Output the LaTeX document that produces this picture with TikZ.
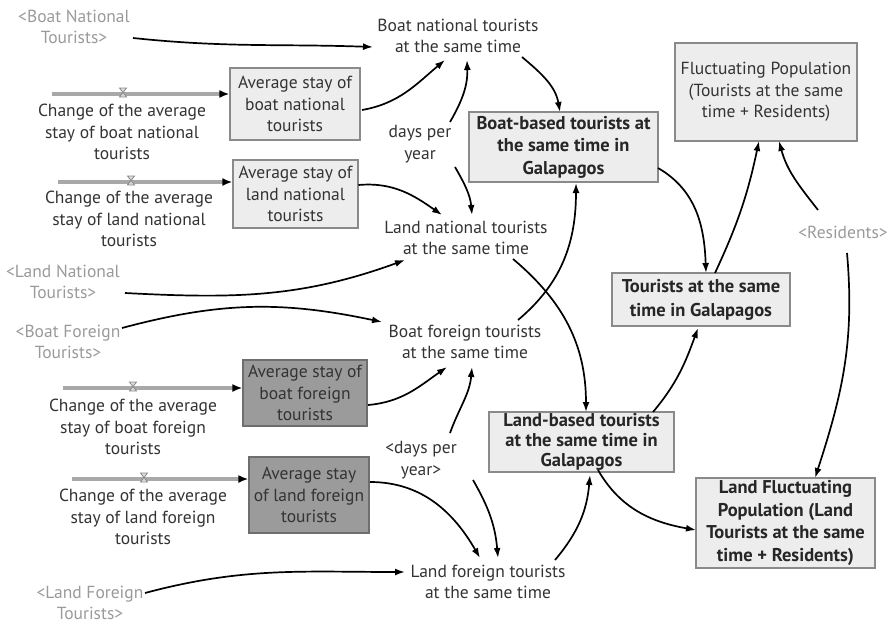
\documentclass[tikz,border=0pt]{standalone}
\usepackage{fontspec}
\setmainfont{PT Sans}
\usetikzlibrary{arrows.meta,calc}
\definecolor{ink}{HTML}{333333}
\definecolor{ghost}{HTML}{9A9A9A}
\definecolor{paleFill}{HTML}{EDEDED}
\definecolor{darkFill}{HTML}{9B9B9B}
\definecolor{frame}{HTML}{8A8A8A}
\definecolor{pipeGray}{HTML}{A8A8A8}

\tikzset{
  lbl/.style={text=ink, align=center, font=\fontsize{17.5}{21.5}\selectfont, inner sep=0pt},
  ext/.style={lbl, text=ghost},
  pale/.style={lbl, draw=frame, fill=paleFill, line width=1.2pt},
  darkbox/.style={lbl, draw=frame!80!black, fill=darkFill, line width=1.2pt},
  boldbox/.style={pale, text=black!85, font=\bfseries\fontsize{18.5}{22.5}\selectfont},
  link/.style={draw=black, line width=1.7pt, -{Latex[length=10pt,width=7pt]}},
  pipe/.style={draw=pipeGray, line width=4.5pt, -{Latex[length=10pt,width=8pt,color=black]}},
  valve/.style={draw=frame, fill=pipeGray!40, line width=0.8pt}
}

\begin{document}
\begin{tikzpicture}[x=1pt,y=-1pt]
\useasboundingbox (0,0) rectangle (894,624);

% shadow variables
\node[ext] (bnExt) at (74,27) {<Boat National\\Tourists>};
\node[ext] (lnExt) at (63,282) {<Land National\\Tourists>};
\node[ext] (bfExt) at (68,342) {<Boat Foreign\\Tourists>};
\node[ext] (lfExt) at (90,603) {<Land Foreign\\Tourists>};
\node[ext] (residents) at (843,232) {<Residents>};
\node[lbl] (dpy2) at (421,460) {<days per\\year>};

% auxiliary variables
\node[lbl] (dpy) at (420,144) {days per\\year};
\node[lbl] (bnT) at (458,36) {Boat national tourists\\at the same time};
\node[lbl] (lnT) at (466,238) {Land national tourists\\at the same time};
\node[lbl] (bfT) at (465,342) {Boat foreign tourists\\at the same time};
\node[lbl] (lfT) at (488,582) {Land foreign tourists\\at the same time};

% stocks
\node[pale, minimum width=130, minimum height=72] (avbn) at (295,104) {Average stay of\\boat national\\tourists};
\node[pale, minimum width=125, minimum height=68] (avln) at (295.5,194) {Average stay of\\land national\\tourists};
\node[darkbox, minimum width=124, minimum height=66] (avbf) at (305,393) {Average stay of\\boat foreign\\tourists};
\node[darkbox, minimum width=120, minimum height=76] (avlf) at (309,495) {Average stay\\of land foreign\\tourists};

% aggregates
\node[boldbox, minimum width=189, minimum height=70] (boatBased) at (563.5,147) {Boat-based tourists at\\the same time in\\Galapagos};
\node[boldbox, minimum width=185, minimum height=60, font=\bfseries\fontsize{18.5}{20}\selectfont] (landBased) at (581.5,442) {Land-based tourists\\at the same time in\\Galapagos};
\node[boldbox, minimum width=178, minimum height=53, font=\bfseries\fontsize{18.5}{24}\selectfont] (tourists) at (701,299.5) {Tourists at the same\\time in Galapagos};
\node[pale, minimum width=182, minimum height=98] (fluct) at (766,92) {Fluctuating Population\\(Tourists at the same\\time + Residents)};
\node[boldbox, minimum width=179, minimum height=90] (landFluct) at (785.5,523) {Land Fluctuating\\Population (Land\\Tourists at the same\\time + Residents)};

% inflows with valves
\coordinate (p1) at (52,94);
\coordinate (p2) at (58,182);
\coordinate (p3) at (63,388);
\coordinate (p4) at (72,479);
\draw[pipe] (p1) -- (p1 -| avbn.west);
\draw[pipe] (p2) -- (p2 -| avln.west);
\draw[pipe] (p3) -- (p3 -| avbf.west);
\draw[pipe] (p4) -- (p4 -| avlf.west);
\coordinate (v1) at (123,94);
\coordinate (v2) at (131,182);
\coordinate (v3) at (133,388);
\coordinate (v4) at (144,479);
\foreach \v in {v1,v2,v3,v4}
  \draw[valve] ($(\v)+(-3.5,-6)$) -- ++(7,0) -- ++(-7,9) -- ++(7,0) -- cycle;
\node[lbl] (chg1) at (122,132) {Change of the average\\stay of boat national\\tourists};
\node[lbl] (chg2) at (129,219) {Change of the average\\stay of land national\\tourists};
\node[lbl] (chg3) at (133,427) {Change of the average\\stay of boat foreign\\tourists};
\node[lbl] (chg4) at (143,517) {Change of the average\\stay of land foreign\\tourists};

% causal links
\draw[link] ($(bnExt)+(59,11)$) to[out=-6,in=178] ($(bnT)+(-85,11)$);
\draw[link] ($(avbn)+(67,6)$) to[out=10,in=-140] ($(bnT)+(-13,24)$);
\draw[link] ($(dpy)+(30,-22)$) to[out=60,in=-88] ($(bnT)+(9,24)$);
\draw[link] ($(dpy)+(35,23)$) to[out=-60,in=95] ($(lnT)+(6,-23)$);
\draw[link] ($(avln)+(63,-9)$) to[out=5,in=145] ($(lnT)+(-24,-23)$);
\draw[link] ($(lnExt)+(62,11)$) to[out=-3,in=-160] ($(lnT)+(-61,22)$);
\draw[link] ($(bnT)+(64,21)$) to[out=-40,in=100] ($(boatBased)+(-3.5,-35)$);
\draw[link] ($(boatBased)+(94.5,21)$) to[out=-30,in=92] ($(tourists)+(5,-26.5)$);
\draw[link] ($(tourists)+(14,-26.5)$) to[out=65,in=-102] ($(fluct)+(-7,49)$);
\draw[link] ($(residents)+(-25,-22)$) to[out=128,in=-75] ($(fluct)+(13,49)$);
\draw[link] ($(residents)+(4,21)$) to[out=-85,in=72] ($(landFluct)+(29.5,-45)$);
\draw[link] ($(lnT)+(47,21)$) to[out=-40,in=90] ($(landBased)+(4.5,-30)$);
\draw[link] ($(bfT)+(53,-22)$) to[out=40,in=-90] ($(boatBased)+(12.5,36)$);
\draw[link] ($(bfExt)+(54,-14)$) to[out=15,in=168] ($(bfT)+(-83,-20)$);
\draw[link] ($(avbf)+(63,12)$) to[out=5,in=-145] ($(bfT)+(-18,25)$);
\draw[link] ($(dpy2)+(29,-27)$) to[out=70,in=-95] ($(bfT)+(7,25)$);
\draw[link] ($(avlf)+(61,-13)$) to[out=0,in=120] ($(lfT)+(-8,-24)$);
\draw[link] ($(dpy2)+(52,20)$) to[out=-60,in=95] ($(lfT)+(10,-24)$);
\draw[link] ($(lfExt)+(55,-10)$) to[out=15,in=180] ($(lfT)+(-83,-10)$);
\draw[link] ($(lfT)+(67,-22)$) to[out=50,in=-95] ($(landBased)+(8.5,33)$);
\draw[link] ($(landBased)+(16.5,28)$) to[out=-60,in=170] ($(landFluct)+(-89.5,7)$);
\draw[link] ($(landBased)+(71.5,-30)$) to[out=50,in=-110] ($(tourists)+(-3,28.5)$);
\end{tikzpicture}
\end{document}
